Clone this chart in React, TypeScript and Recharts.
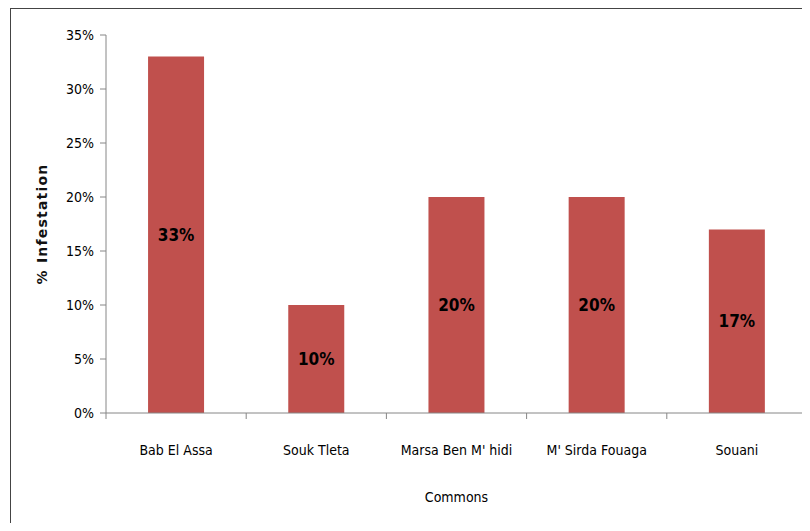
import { BarChart, Bar, XAxis, YAxis, LabelList } from "recharts";

const communes = ["Bab El Assa", "Souk Tleta", "Marsa Ben M' hidi", "M' Sirda Fouaga", "Souani"];
const infestation = [33, 10, 20, 20, 17];
const yTicks = [0, 5, 10, 15, 20, 25, 30, 35];
const edgeTicks = [0, 1, 2, 3, 4, 5];

const data = communes.map((name, i) => ({ name, value: infestation[i], edge: i }));

const font = "'DejaVu Sans Condensed', 'Liberation Sans Narrow', Roboto, sans-serif";

export default function App() {
  return (
    <div style={{ position: "relative", width: 810, height: 531, margin: -8, overflow: "hidden", background: "#fff" }}>
      <div
        style={{
          position: "absolute",
          left: 10,
          top: 8,
          width: 806,
          height: 530,
          border: "1.5px solid #444",
          boxSizing: "border-box",
        }}
      />
      <div style={{ position: "absolute", left: 0, top: 0 }}>
        <BarChart
          width={810}
          height={531}
          data={data}
          margin={{ top: 35, right: 3, bottom: 18, left: 0 }}
          barCategoryGap="30%"
        >
          <XAxis
            xAxisId="edges"
            type="number"
            dataKey="edge"
            domain={[0, 5]}
            ticks={edgeTicks}
            allowDataOverflow
            axisLine={{ stroke: "#868686" }}
            tickFormatter={() => ""}
            tickSize={6}
            tickLine={{ stroke: "#868686" }}
            height={1}
          />
          <XAxis
            xAxisId="names"
            dataKey="name"
            height={99}
            tickLine={false}
            tickSize={0}
            tickMargin={31}
            axisLine={false}
            tick={{ fill: "#000", fontSize: 14, fontFamily: font }}
            interval={0}
            label={{
              value: "Commons",
              position: "insideBottom",
              offset: 11,
              fill: "#000",
              fontSize: 14,
              fontFamily: font,
            }}
          />
          <YAxis
            width={106}
            domain={[0, 35]}
            ticks={yTicks}
            tickSize={6}
            tickMargin={6}
            axisLine={{ stroke: "#868686" }}
            tickLine={{ stroke: "#868686" }}
            tickFormatter={(v: number) => `${v}%`}
            tick={{ fill: "#000", fontSize: 14, fontFamily: font }}
            label={{
              value: "% Infestation",
              angle: -90,
              position: "center",
              dx: -11,
              fill: "#111",
              fontSize: 14,
              fontWeight: "bold",
              letterSpacing: 1.2,
              fontFamily: "'DejaVu Sans', Verdana, sans-serif",
            }}
          />
          <Bar xAxisId="names" dataKey="value" fill="#C0504D" isAnimationActive={false}>
            <LabelList
              dataKey="value"
              position="center"
              formatter={(v: number) => `${v}%`}
              fill="#000"
              fontSize={17}
              fontWeight="bold"
              fontFamily={font}
            />
          </Bar>
        </BarChart>
      </div>
    </div>
  );
}
